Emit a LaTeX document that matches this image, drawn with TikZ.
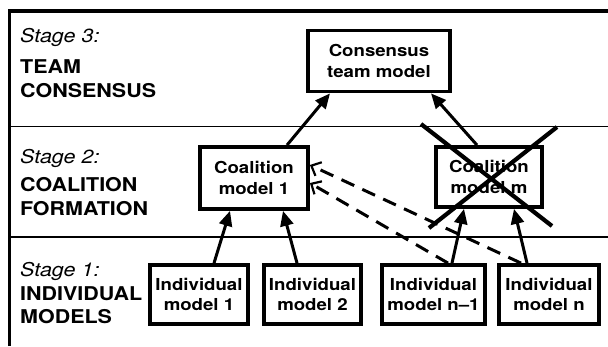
\documentclass[tikz,border=0pt]{standalone}
\usepackage{fontspec}
\setmainfont{TeX Gyre Heros}[FakeStretch=1.13]
\usetikzlibrary{arrows.meta,calc}
\begin{document}
\begin{tikzpicture}[x=1pt,y=-1pt,
  mbox/.style={draw, line width=3.8pt, minimum width=#1, minimum height=61pt, inner sep=0pt, align=center,
    font=\fontsize{16.5}{20.5}\selectfont\bfseries},
  arr/.style={line width=3pt, -{Triangle[length=15pt,width=13pt]}},
  dsh/.style={line width=3pt, dash pattern=on 14pt off 9pt, -{Straight Barb[length=8pt,width=15pt,line width=2.2pt]}},
  stg/.style={anchor=base west, inner sep=0pt, font=\fontsize{19}{19}\selectfont\itshape},
  caplab/.style={anchor=base west, inner sep=0pt, font=\fontsize{19}{19}\selectfont\bfseries},
  sep/.style={line width=1.6pt},
  frame/.style={line width=3.6pt},
  cross/.style={line width=4.2pt}]
\useasboundingbox (0,0) rectangle (608,346);
% frame and separators
\draw[frame] (9.5,346) -- (9.5,11) -- (608,11);
\draw[sep] (9.5,126.5) -- (608,126.5);
\draw[sep] (9.5,237) -- (608,237);
% stage labels
\node[stg] (s3) at (20,42) {Stage 3:};
\node[caplab] (s3a) at (20,73) {TEAM};
\node[caplab] (s3b) at (20,97) {CONSENSUS};
\node[stg] (s2) at (20,163) {Stage 2:};
\node[caplab] (s2a) at (20,191) {COALITION};
\node[caplab] (s2b) at (20,215) {FORMATION};
\node[stg] (s1) at (20,276) {Stage 1:};
\node[caplab] (s1a) at (20,300) {INDIVIDUAL};
\node[caplab] (s1b) at (20,323) {MODELS};
% boxes
\node[mbox=142pt] (ct) at (379,61) {Consensus\\team model};
\node[mbox=108pt, minimum height=62pt] (c1) at (254,178) {Coalition\\model 1};
\node[mbox=106pt, minimum height=60pt] (cm) at (489,177) {Coalition\\model m};
\node[mbox=98pt, minimum height=59pt] (i1) at (199,294.5) {Individual\\model 1};
\node[mbox=97pt, minimum height=59pt] (i2) at (312.5,294.5) {Individual\\model 2};
\node[mbox=103pt, minimum height=59pt] (in1) at (433.5,294.5) {Individual\\model n–1};
\node[mbox=100pt, minimum height=59pt] (in) at (549,294.5) {Individual\\model n};
% arrows
\draw[arr] ([xshift=15pt]i1.north) -- ([xshift=-24pt]c1.south);
\draw[arr] ([xshift=-15.5pt]i2.north) -- ([xshift=29pt]c1.south);
\draw[arr] ([xshift=33pt]c1.north) -- ([xshift=-49pt]ct.south);
\draw[arr] ([xshift=-12pt]cm.north) -- ([xshift=52pt]ct.south);
\draw[arr] ([xshift=18.5pt]in1.north) -- ([xshift=-25pt]cm.south);
\draw[arr] ([xshift=-22pt]in.north) -- ([xshift=25pt]cm.south);
% dashed arrows
\draw[dsh] ([xshift=14.5pt]in1.north) -- ([yshift=-5pt]c1.east);
\draw[dsh] ([xshift=-28pt]in.north) -- ([yshift=13pt]c1.east);
% cross over coalition m
\draw[cross] (421,124) -- (552,226);
\draw[cross] (557,127) -- (429,228);
\end{tikzpicture}
\end{document}
